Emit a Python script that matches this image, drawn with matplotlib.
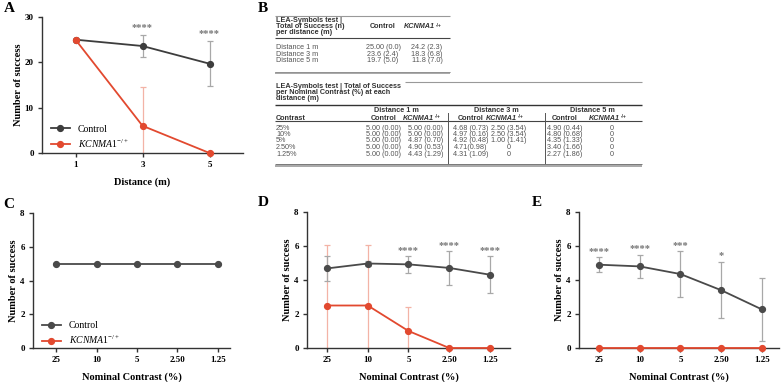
import numpy as np
import matplotlib
matplotlib.use('Agg')
import matplotlib.pyplot as plt

plt.rcParams['font.family'] = ['Liberation Serif', 'DejaVu Serif']
plt.rcParams['mathtext.fontset'] = 'custom'
plt.rcParams['mathtext.it'] = 'Liberation Serif:italic'
plt.rcParams['mathtext.rm'] = 'Liberation Serif'

# panel A: distance test
dist = [1, 3, 5]
a_ctrl = [25.0, 23.6, 19.7]
a_ctrl_sd = [0.0, 2.4, 5.0]
a_kc = [25.0, 6.0, 0.0]
a_kc_sd = [0.0, 8.5, 0.0]
a_stars = ['', '****', '****']

# panels C-E: nominal contrast at 1, 3, 5 m
contrast = ['25', '10', '5', '2.50', '1.25']
c_ctrl = [5.00, 5.00, 5.00, 5.00, 5.00]
c_ctrl_sd = [0.0, 0.0, 0.0, 0.0, 0.0]
d_ctrl = [4.68, 4.97, 4.92, 4.71, 4.31]
d_ctrl_sd = [0.73, 0.16, 0.48, 0.98, 1.09]
d_kc = [2.50, 2.50, 1.00, 0.0, 0.0]
d_kc_sd = [3.54, 3.54, 1.41, 0.0, 0.0]
d_stars = ['', '', '****', '****', '****']
e_ctrl = [4.90, 4.80, 4.35, 3.40, 2.27]
e_ctrl_sd = [0.44, 0.68, 1.33, 1.66, 1.86]
e_kc = [0.0, 0.0, 0.0, 0.0, 0.0]
e_stars = ['****', '****', '***', '*', '']

# table B
t1_rows = ['Distance 1 m', 'Distance 3 m', 'Distance 5 m']
t1_ctrl = ['25.00 (0.0)', '23.6 (2.4)', '19.7 (5.0)']
t1_kc = ['24.2 (2.3)', '18.3 (6.8)', '11.8 (7.0)']
t2_rows = ['25%', '10%', '5%', '2.50%', '1.25%']
t2_d1_ctrl = ['5.00 (0.00)'] * 5
t2_d1_kc = ['5.00 (0.00)', '5.00 (0.00)', '4.87 (0.70)', '4.90 (0.53)', '4.43 (1.29)']
t2_d3_ctrl = ['4.68 (0.73)', '4.97 (0.16)', '4.92 (0.48)', '4.71(0.98)', '4.31 (1.09)']
t2_d3_kc = ['2.50 (3.54)', '2.50 (3.54)', '1.00 (1.41)', '0', '0']
t2_d5_ctrl = ['4.90 (0.44)', '4.80 (0.68)', '4.35 (1.33)', '3.40 (1.66)', '2.27 (1.86)']
t2_d5_kc = ['0', '0', '0', '0', '0']

W, H = 783, 382
CTRL = '#4a4a4a'
CTRL_ERR = '#a8a8a8'
RED = '#e2492f'
RED_ERR = '#f3b3a6'

fig = plt.figure(figsize=(W / 100, H / 100), dpi=100)


def add_ax(x0, y0, x1, y1):
    return fig.add_axes([x0 / W, 1 - y1 / H, (x1 - x0) / W, (y1 - y0) / H])


def style(ax):
    for s in ['top', 'right']:
        ax.spines[s].set_visible(False)
    for s in ['left', 'bottom']:
        ax.spines[s].set_color('#333333')
        ax.spines[s].set_linewidth(1.0)
    ax.tick_params(direction='out', length=3, width=1, color='#333333',
                   labelsize=6.5, pad=3)
    for lab in ax.get_xticklabels() + ax.get_yticklabels():
        lab.set_fontweight('bold')
    ax.set_ylabel('Number of success', fontsize=7.5, fontweight='bold', labelpad=1.5)


def series(ax, x, y, sd, col, ecol, lab):
    ax.errorbar(x, y, yerr=sd, fmt='none', ecolor=ecol, elinewidth=0.9,
                capsize=2.5, capthick=0.9, zorder=2)
    ax.plot(x, y, '-o', color=col, lw=1.3, ms=4.2, label=lab, zorder=3, clip_on=False)


def stars(ax, x, y, sd, st, off):
    for xi, yi, si, s in zip(x, y, sd, st):
        if s:
            ax.text(xi, yi + si + off, s, ha='center', va='center', fontsize=7.5,
                    color='#777777', fontweight='bold')


kc_label = r'$\mathit{KCNMA1}^{-/+}$'

# ---- A
axA = add_ax(42, 17, 243, 153)
series(axA, dist, a_ctrl, a_ctrl_sd, '#3d3d3d', CTRL_ERR, 'Control')
series(axA, dist, a_kc, a_kc_sd, RED, RED_ERR, kc_label)
stars(axA, dist, a_ctrl, a_ctrl_sd, a_stars, 1.6)
axA.set_xlim(0, 6)
axA.set_ylim(0, 30)
axA.set_xticks(dist)
axA.set_yticks([0, 10, 20, 30])
style(axA)
axA.set_xlabel('Distance (m)', fontsize=7.5, fontweight='bold', labelpad=6)
axA.legend(loc='lower left', bbox_to_anchor=(0.0, -0.04), frameon=False,
           fontsize=7, handlelength=2.0, handletextpad=0.8, labelspacing=0.35)

# ---- C, D, E
xpos = np.arange(len(contrast))
panels = [
    (add_ax(33, 213, 230, 348), (-0.57, 4.3), [(c_ctrl, c_ctrl_sd, CTRL, CTRL_ERR, 'Control')], None),
    (add_ax(307, 212, 510, 348), (-0.49, 4.49),
     [(d_kc, d_kc_sd, RED, RED_ERR, kc_label), (d_ctrl, d_ctrl_sd, CTRL, CTRL_ERR, 'Control')],
     (d_ctrl, d_ctrl_sd, d_stars)),
    (add_ax(579, 212, 779, 348), (-0.49, 4.42),
     [(e_ctrl, e_ctrl_sd, CTRL, CTRL_ERR, 'Control'), (e_kc, None, RED, RED_ERR, kc_label)],
     (e_ctrl, e_ctrl_sd, e_stars)),
]
for ax, xl, ser, st in panels:
    for y, sd, col, ecol, lab in ser:
        series(ax, xpos, y, sd, col, ecol, lab)
    if st:
        stars(ax, xpos, st[0], st[1], st[2], 0.36)
    ax.set_xlim(*xl)
    ax.set_ylim(0, 8)
    ax.set_xticks(xpos)
    ax.set_xticklabels(contrast)
    ax.set_yticks([0, 2, 4, 6, 8])
    style(ax)
    ax.set_xlabel('Nominal Contrast (%)', fontsize=7.5, fontweight='bold', labelpad=6)

# legend in C shows both groups
axC = panels[0][0]
axC.plot([], [], '-o', color=RED, lw=1.3, ms=4.2, label=kc_label)
axC.legend(loc='lower left', bbox_to_anchor=(0.0, -0.05), frameon=False,
           fontsize=7, handlelength=2.0, handletextpad=0.8, labelspacing=0.35)

# ---- overlay for letters and table
ov = fig.add_axes([0, 0, 1, 1], zorder=-1)
ov.set_xlim(0, W)
ov.set_ylim(H, 0)
ov.axis('off')

for lt, (x, y) in zip('ABCDE', [(4, 9), (258, 8), (3, 204), (258, 203), (532, 203)]):
    ov.text(x, y, lt, fontsize=11, fontweight='bold', va='center', ha='left')

SANS = ['Liberation Sans', 'DejaVu Sans']
TC = '#333333'
BC = '#555555'
fs = 5.2


def tt(x, y, s, ha='left', bold=False, col=TC):
    ov.text(x, y, s, fontsize=fs, family=SANS, ha=ha, va='center', color=col,
            fontweight='bold' if bold else 'normal')


def kc_head(xc, y):
    # bold italic gene name with superscript
    ov.text(xc + 10, y, 'KCNMA1', fontsize=fs, family=SANS, ha='right', va='center',
            color=TC, fontweight='bold', style='italic')
    ov.text(xc + 10.5, y - 1.8, '-/+', fontsize=3.4, family=SANS, ha='left', va='center',
            color=TC, fontweight='bold')


def hline(x0, x1, y, lw=0.8, col='#444444'):
    ov.plot([x0, x1], [y, y], color=col, lw=lw, solid_capstyle='butt')


# table 1
hline(275, 450, 16, 0.8, '#999999')
tt(276, 21, 'LEA-Symbols test |', bold=True)
tt(276, 27, 'Total of Success (n)', bold=True)
tt(276, 33, 'per distance (m)', bold=True)
tt(383, 27, 'Control', ha='center', bold=True)
kc_head(425, 27)
hline(275, 450, 38, 0.8)
for i, r in enumerate(t1_rows):
    y = 47.5 + 6.5 * i
    tt(276, y, r, col=BC)
    tt(383, y, t1_ctrl[i], ha='center', col=BC)
    tt(427, y, t1_kc[i], ha='center', col=BC)
hline(275, 450, 71.5, 0.7, '#777777')
hline(275, 450, 73.2, 1.2, '#999999')

# table 2
hline(405, 642, 82, 0.8, '#999999')
tt(276, 87, 'LEA-Symbols test | Total of Success', bold=True)
tt(276, 93, 'per Nominal Contrast (%) at each', bold=True)
tt(276, 99, 'distance (m)', bold=True)
hline(275, 642, 104.5, 1.0, '#333333')
for xc, lab in zip([396, 496, 592], ['Distance 1 m', 'Distance 3 m', 'Distance 5 m']):
    tt(xc, 110, lab, ha='center', bold=True)
tt(276, 118, 'Contrast', bold=True)
cols = [384, 426, 471, 509, 565, 612]
for i, xc in enumerate(cols):
    if i % 2 == 0:
        tt(xc, 118, 'Control', ha='center', bold=True)
    else:
        kc_head(xc - 2, 118)
hline(275, 642, 121, 0.8)
for xv in [448, 545]:
    ov.plot([xv, xv], [113, 164], color='#555555', lw=0.7)
table_cols = [t2_d1_ctrl, t2_d1_kc, t2_d3_ctrl, t2_d3_kc, t2_d5_ctrl, t2_d5_kc]
for i, r in enumerate(t2_rows):
    y = 128 + 6.5 * i
    tt(276, y, r, col=BC)
    for xc, col in zip(cols, table_cols):
        tt(xc, y, col[i], ha='center', col=BC)
hline(275, 642, 164, 0.7, '#777777')
hline(275, 642, 165.7, 1.2, '#999999')

fig.savefig('out.png', dpi=100)
